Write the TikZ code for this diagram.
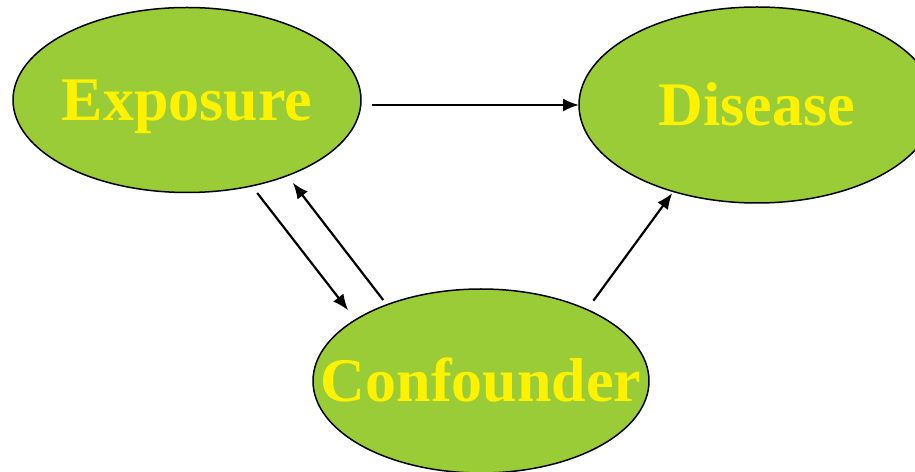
\documentclass[tikz,border=0pt]{standalone}
\usepackage{fontspec}
\setmainfont{Liberation Serif}
\usepackage{tikz}
\usetikzlibrary{shapes.geometric, arrows.meta}
\definecolor{leafgreen}{RGB}{154,204,56}
\tikzset{
    factor/.style={ellipse, draw=black, line width=1.5pt, fill=leafgreen, text=yellow, font=\fontsize{62}{70}\selectfont\bfseries, inner sep=0pt, outer sep=0pt, text height=41pt, text depth=0pt},
    arrow/.style={line width=2.2pt, -{Latex[length=16pt, width=13pt]}}
}

\begin{document}
\begin{tikzpicture}[x=1pt, y=1pt]
    \useasboundingbox (0,0) rectangle (915,471);
    \node (expo) [factor, minimum width=348pt, minimum height=185pt] at (187,371) {\makebox[0pt]{Exposure}};
    \node (dis) [factor, minimum width=356pt, minimum height=196pt] at (757,366) {\makebox[0pt]{Disease}};
    \node (conf) [factor, minimum width=336pt, minimum height=184pt] at (481,90) {\makebox[0pt]{Confounder}};

    \draw [arrow, shorten <=11pt] (expo.east |- dis.west) -- (dis.west);
    \draw [arrow, shorten <=9pt, shorten >=12pt] (expo.-53.1) -- (conf.154);
    \draw [arrow, shorten <=6pt, shorten >=9pt] (conf.141.1) -- (expo.-37.3);
    \draw [arrow, shorten <=11pt, shorten >=2pt] (conf.34.6) -- (dis.-134.1);
\end{tikzpicture}
\end{document}
